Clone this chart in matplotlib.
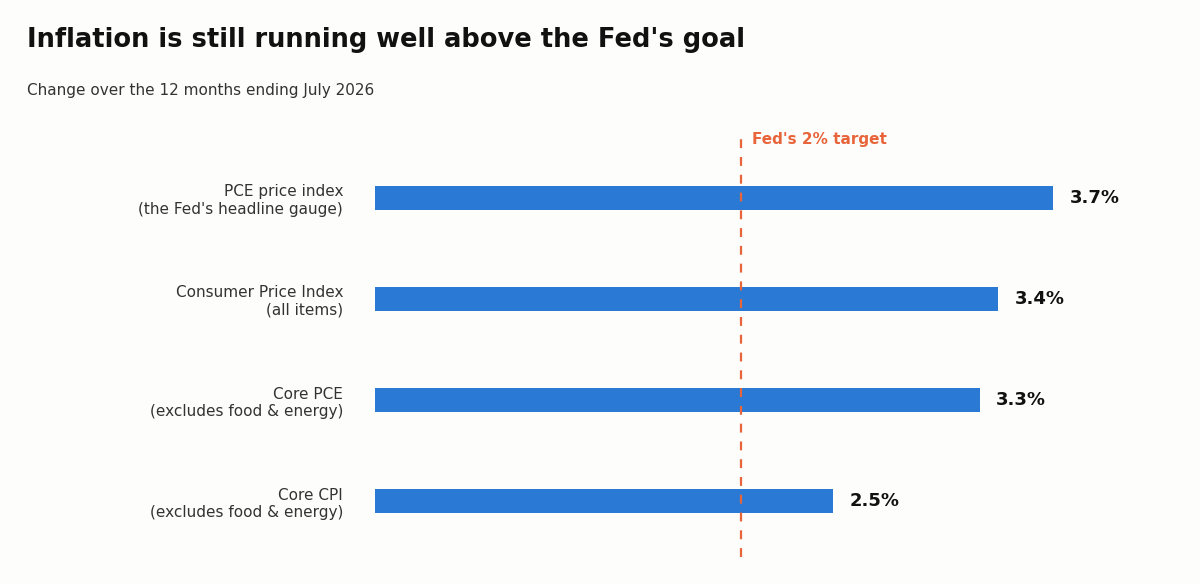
import matplotlib
matplotlib.use("Agg")
import matplotlib.pyplot as plt

labels = ["PCE price index\n(the Fed's headline gauge)",
          "Consumer Price Index\n(all items)",
          "Core PCE\n(excludes food & energy)",
          "Core CPI\n(excludes food & energy)"]
values = [3.7, 3.4, 3.3, 2.5]
target = 2.0

bg = "#fdfdfb"
fig = plt.figure(figsize=(12, 5.84), dpi=100, facecolor=bg)
ax = fig.add_axes([375 / 1200, 27 / 584, 775 / 1200, 424 / 584], facecolor=bg)

ypos = list(range(len(values)))
ax.barh(ypos, values, height=0.24, color="#2a7ad5")
for y, v in zip(ypos, values):
    ax.text(v + 0.09, y, f"{v}%", va="center", ha="left", fontsize=13,
            fontweight="bold", color="#111")

ax.axvline(target, color="#e8643a", linestyle=(0, (4, 4)), linewidth=1.6)
ax.text(target + 0.06, -0.58, "Fed's 2% target", color="#e8643a",
        fontsize=11, fontweight="bold", va="center", ha="left")

ax.set_xlim(0, 775 / 183.2)
ax.set_ylim(3.55, -0.64)
ax.set_yticks(ypos)
ax.set_yticklabels(labels, fontsize=11, color="#333")
ax.tick_params(axis="y", length=0, pad=23)
ax.set_xticks([])
for s in ax.spines.values():
    s.set_visible(False)

fig.text(27 / 1200, 1 - 40 / 584, "Inflation is still running well above the Fed's goal",
         fontsize=18.5, fontweight="bold", color="#111", va="center")
fig.text(27 / 1200, 1 - 90 / 584, "Change over the 12 months ending July 2026",
         fontsize=11, color="#333", va="center")

fig.savefig("out.png", facecolor=bg)
